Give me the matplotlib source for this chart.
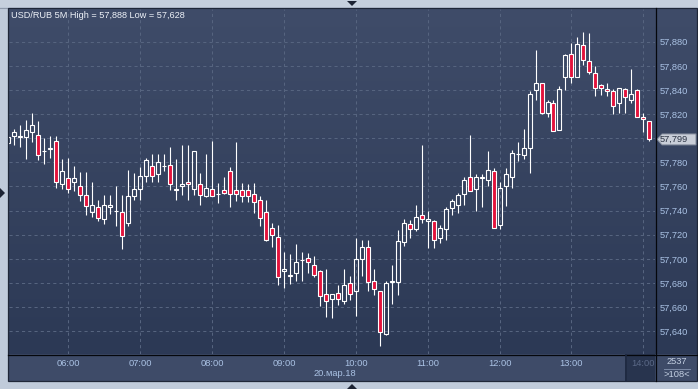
import numpy as np
import pandas as pd
import matplotlib
matplotlib.use("Agg")
import matplotlib.pyplot as plt
from matplotlib.patches import Rectangle, Polygon
from matplotlib.collections import LineCollection
from matplotlib.colors import LinearSegmentedColormap
from matplotlib.ticker import FuncFormatter

plt.rcParams['font.family'] = ['Liberation Sans', 'DejaVu Sans']

# ---------------- data ----------------
times = pd.date_range('2018-03-20 05:10', periods=108, freq='5min')

opens = [57.796, 57.802, 57.801, 57.801, 57.805, 57.803, 57.789, 57.791, 57.798, 57.762,
         57.767, 57.764, 57.760, 57.753, 57.739, 57.743, 57.733, 57.743, 57.740, 57.739,
         57.730, 57.752, 57.758, 57.769, 57.777, 57.770, 57.777, 57.778, 57.758, 57.760,
         57.764, 57.758, 57.762, 57.752, 57.758, 57.754, 57.757, 57.773, 57.757, 57.757,
         57.757, 57.754, 57.749, 57.739, 57.726, 57.718, 57.690, 57.687, 57.688, 57.699,
         57.701, 57.695, 57.690, 57.671, 57.667, 57.672, 57.665, 57.680, 57.673, 57.700,
         57.710, 57.682, 57.673, 57.638, 57.681, 57.681, 57.714, 57.729, 57.725, 57.736,
         57.731, 57.731, 57.717, 57.725, 57.742, 57.745, 57.754, 57.768, 57.758, 57.767,
         57.765, 57.773, 57.728, 57.760, 57.768, 57.787, 57.786, 57.792, 57.840, 57.846,
         57.821, 57.829, 57.807, 57.851, 57.870, 57.851, 57.877, 57.864, 57.854, 57.844,
         57.841, 57.839, 57.829, 57.841, 57.832, 57.840, 57.818, 57.814]
highs = [57.802, 57.808, 57.811, 57.815, 57.821, 57.814, 57.800, 57.802, 57.802, 57.783,
         57.784, 57.777, 57.772, 57.772, 57.764, 57.749, 57.753, 57.753, 57.760, 57.753,
         57.774, 57.771, 57.776, 57.784, 57.787, 57.787, 57.787, 57.793, 57.783, 57.794,
         57.794, 57.789, 57.771, 57.787, 57.798, 57.763, 57.768, 57.776, 57.797, 57.763,
         57.762, 57.763, 57.752, 57.749, 57.730, 57.728, 57.706, 57.704, 57.712, 57.706,
         57.705, 57.702, 57.691, 57.692, 57.671, 57.678, 57.692, 57.686, 57.717, 57.716,
         57.716, 57.692, 57.673, 57.682, 57.695, 57.724, 57.733, 57.732, 57.745, 57.794,
         57.740, 57.732, 57.728, 57.743, 57.750, 57.755, 57.768, 57.803, 57.770, 57.770,
         57.789, 57.775, 57.764, 57.775, 57.790, 57.797, 57.808, 57.839, 57.873, 57.846,
         57.832, 57.832, 57.843, 57.870, 57.879, 57.884, 57.888, 57.887, 57.860, 57.845,
         57.846, 57.841, 57.842, 57.842, 57.857, 57.841, 57.821, 57.814]
lows = [57.794, 57.794, 57.793, 57.783, 57.797, 57.782, 57.779, 57.784, 57.759, 57.758,
        57.755, 57.756, 57.748, 57.736, 57.735, 57.731, 57.729, 57.737, 57.727, 57.708,
        57.727, 57.749, 57.749, 57.764, 57.764, 57.764, 57.773, 57.757, 57.749, 57.753,
        57.749, 57.753, 57.745, 57.751, 57.752, 57.746, 57.754, 57.743, 57.748, 57.747,
        57.747, 57.738, 57.727, 57.715, 57.710, 57.678, 57.676, 57.679, 57.682, 57.682,
        57.688, 57.685, 57.661, 57.652, 57.651, 57.662, 57.663, 57.666, 57.653, 57.686,
        57.673, 57.670, 57.628, 57.637, 57.663, 57.670, 57.711, 57.717, 57.723, 57.730,
        57.709, 57.709, 57.713, 57.716, 57.736, 57.738, 57.745, 57.756, 57.740, 57.743,
        57.760, 57.726, 57.725, 57.744, 57.759, 57.781, 57.783, 57.771, 57.832, 57.820,
        57.818, 57.806, 57.807, 57.840, 57.846, 57.851, 57.861, 57.853, 57.835, 57.836,
        57.835, 57.820, 57.821, 57.821, 57.829, 57.818, 57.805, 57.798]
closes = [57.801, 57.805, 57.802, 57.807, 57.811, 57.786, 57.789, 57.792, 57.764, 57.773,
          57.758, 57.767, 57.753, 57.744, 57.745, 57.734, 57.745, 57.745, 57.740, 57.719,
          57.752, 57.758, 57.769, 57.782, 57.769, 57.780, 57.777, 57.762, 57.757, 57.762,
          57.762, 57.789, 57.753, 57.759, 57.752, 57.754, 57.755, 57.754, 57.754, 57.752,
          57.752, 57.747, 57.734, 57.716, 57.720, 57.685, 57.692, 57.686, 57.697, 57.699,
          57.697, 57.687, 57.669, 57.665, 57.671, 57.667, 57.678, 57.671, 57.700, 57.710,
          57.681, 57.675, 57.639, 57.680, 57.682, 57.715, 57.730, 57.725, 57.735, 57.733,
          57.733, 57.716, 57.726, 57.741, 57.748, 57.753, 57.765, 57.756, 57.768, 57.768,
          57.774, 57.726, 57.759, 57.770, 57.788, 57.787, 57.792, 57.837, 57.846, 57.821,
          57.830, 57.806, 57.841, 57.869, 57.851, 57.878, 57.865, 57.855, 57.842, 57.842,
          57.839, 57.827, 57.842, 57.834, 57.837, 57.818, 57.816, 57.799]

price_ticks = [57.640, 57.660, 57.680, 57.700, 57.720, 57.740, 57.760,
               57.780, 57.800, 57.820, 57.840, 57.860, 57.880]
hour_labels = ['06:00', '07:00', '08:00', '09:00', '10:00', '11:00', '12:00', '13:00', '14:00']
title = 'USD/RUB 5M High = 57,888 Low = 57,628'
date_label = '20.мар.18'
count_label = '2537'
bars_label = '>108<'

# ---------------- layout ----------------
W, H = 698, 389
fig = plt.figure(figsize=(W / 100, H / 100), dpi=100)
fig.patch.set_facecolor('#c0cbda')

def rect(l, t, r, b):
    return [l / W, 1 - b / H, (r - l) / W, (b - t) / H]

# background layer (pixel coordinates)
bg = fig.add_axes([0, 0, 1, 1], zorder=0)
bg.set_xlim(0, W); bg.set_ylim(H, 0); bg.axis('off')
cmap = LinearSegmentedColormap.from_list('bgc', ['#3f4c69', '#2c3955'])
grad = np.linspace(0, 1, 256).reshape(-1, 1)
bg.imshow(grad, extent=(8, 697, 354, 8), aspect='auto', cmap=cmap, interpolation='bilinear')
bg.add_patch(Rectangle((8, 354), 689, 27, facecolor='#3e4b68', edgecolor='none'))
bg.add_patch(Rectangle((625, 354), 30, 27, facecolor='#28344e', edgecolor='none'))
bg.add_patch(Rectangle((0, 0), W, 7, facecolor='#c6d0dd', edgecolor='none'))
bg.plot([0, W], [7.5, 7.5], color='#8f9aab', lw=0.8)

# main chart axes
ax = fig.add_axes(rect(9, 9, 655, 354), zorder=2)
ax.patch.set_alpha(0)
px_per = 5.99
labels_hm = list(times.strftime('%H:%M'))
i06 = labels_hm.index('06:00')
x_left = i06 - (68.3 - 9) / px_per
ax.set_xlim(x_left, x_left + 646 / px_per)
ppu = 1206.5
ax.set_ylim(57.880 - (354 - 41.7) / ppu, 57.880 + (41.7 - 9) / ppu)
for s in ax.spines.values():
    s.set_visible(False)

# grid
hour_idx = [labels_hm.index(h) for h in hour_labels if h in labels_hm]
gcol = '#56647f'
for p in price_ticks:
    ax.axhline(p, color=gcol, lw=0.75, linestyle=(0, (3, 3)), zorder=1)
for h in hour_idx:
    ax.axvline(h, color=gcol, lw=0.75, linestyle=(0, (3, 3)), zorder=1)

# candles
x = np.arange(len(opens))
bw = 4 / px_per
red = '#e3133c'
segs = []
for i in x:
    o, hh, ll, c = opens[i], highs[i], lows[i], closes[i]
    top, bot = max(o, c), min(o, c)
    if hh > top:
        segs.append([(i, top), (i, hh)])
    if ll < bot:
        segs.append([(i, ll), (i, bot)])
    ax.add_patch(Rectangle((i - bw / 2, bot), bw, top - bot,
                           facecolor=red if c < o else 'none',
                           edgecolor='white', lw=0.8, zorder=3, snap=True))
ax.add_collection(LineCollection(segs, colors='white', linewidths=0.8, zorder=2.5, snap=True))

# ticks
ax.yaxis.tick_right()
ax.set_yticks(price_ticks)
ax.yaxis.set_major_formatter(FuncFormatter(lambda v, p: f'{v:.3f}'.replace('.', ',')))
ax.tick_params(axis='y', length=0, pad=3, labelsize=6.7, labelcolor='#aac2e4')
ax.set_xticks(hour_idx)
ax.set_xticklabels(hour_labels)
ax.tick_params(axis='x', length=0, pad=3.5, labelsize=6.7, labelcolor='#aac2e4')
ax.get_xticklabels()[-1].set_color('#5a6886')

ax.text(0.003, 1 - 1.6 / 345, title, transform=ax.transAxes, ha='left', va='top',
        fontsize=6.55, color='#eef2f8')

# foreground decorations (pixel coordinates)
fg = fig.add_axes([0, 0, 1, 1], zorder=4)
fg.set_xlim(0, W); fg.set_ylim(H, 0); fg.axis('off')
fg.patch.set_alpha(0)
fg.plot([655.5, 655.5], [8, 381], color='#05070c', lw=0.9)
fg.plot([8, 697], [354.5, 354.5], color='#05070c', lw=0.9)
fg.plot([625.5, 625.5], [355, 381], color='#1e2840', lw=1.2)
fg.add_patch(Rectangle((8, 8), 689, 373, facecolor='none', edgecolor='#1f2738', lw=0.9))
fg.add_patch(Polygon([(347, 1), (357, 1), (352, 6)], closed=True, facecolor='#1c2333', edgecolor='none'))
fg.add_patch(Polygon([(347, 389), (357, 389), (352, 384)], closed=True, facecolor='#1c2333', edgecolor='none'))
fg.add_patch(Polygon([(0, 188), (0, 198), (5, 193)], closed=True, facecolor='#1c2333', edgecolor='none'))

# current price label
yc = H - ax.transData.transform((0, closes[-1]))[1]
fg.add_patch(Polygon([(657, yc), (662, yc - 5.5), (696, yc - 5.5), (696, yc + 5.5), (662, yc + 5.5)],
                     closed=True, facecolor='#c9ced8', edgecolor='#7f8898', lw=0.7))
fg.text(660, yc + 0.3, f'{closes[-1]:.3f}'.replace('.', ','), ha='left', va='center',
        fontsize=6.7, color='#2a3242')

# bottom right cell
fg.text(676.5, 362, count_label, ha='center', va='center', fontsize=6.7, color='#c3cfe2')
fg.plot([664, 690], [368.5, 368.5], color='#7c8aa6', lw=0.7)
fg.text(676.5, 374.5, bars_label, ha='center', va='center', fontsize=6.7, color='#c3cfe2')

# date label
fg.text(335, 373, date_label, ha='center', va='center', fontsize=6.7, color='#aac2e4')

fig.savefig('out.png', dpi=100, facecolor=fig.get_facecolor())
